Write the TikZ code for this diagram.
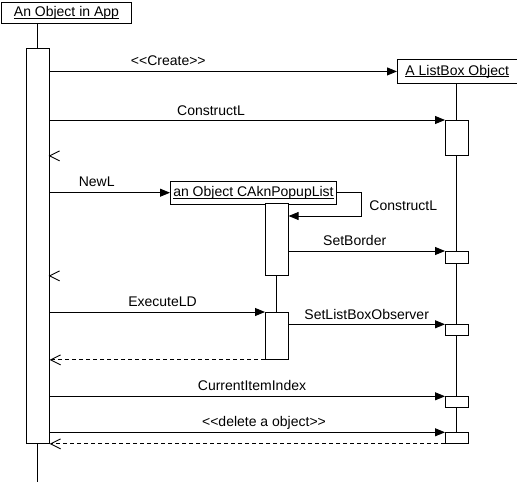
\documentclass[tikz,border=0pt]{standalone}
\usepackage{fontspec}
\setmainfont{Liberation Sans}[Ligatures=TeXOff]
\usetikzlibrary{arrows.meta}
\newcommand\objname[1]{\underline{\smash{#1}\vphantom{A}}}
\begin{document}
\begin{tikzpicture}[x=1pt,y=-1pt,line width=0.9pt,
  obj/.style={draw,fill=white,inner sep=0pt,anchor=north west,font=\fontsize{14}{16}\selectfont},
  act/.style={draw,fill=white,inner sep=0pt,minimum width=22.7pt,anchor=north west},
  lbl/.style={inner sep=0pt,anchor=base,font=\fontsize{14}{16}\selectfont},
  call/.style={-{Triangle[length=10pt,width=8pt]}},
  ret/.style={dash pattern=on 4pt off 3pt,-{Straight Barb[length=10pt,width=10pt]}}]
\useasboundingbox (0,0) rectangle (517,482);
% objects
\node[obj,minimum width=130pt,minimum height=21pt] (appobj) at (1,2) {\objname{An Object in App}};
\node[obj,minimum width=119.5pt,minimum height=24pt] (lbobj) at (397,59) {\objname{A ListBox Object}};
\node[obj,minimum width=166pt,minimum height=22.5pt] (ppobj) at (170,181) {\objname{an Object CAknPopupList}};
% activations
\node[act,minimum height=395pt] (appact) at (26,48) {};
\node[act,minimum height=35pt] (lb1) at (445,120) {};
\node[act,minimum height=12pt] (lb2) at (445,251) {};
\node[act,minimum height=11pt] (lb3) at (445,324.3) {};
\node[act,minimum height=10.7pt] (lb4) at (445,396.3) {};
\node[act,minimum height=10.7pt] (lb5) at (445,432.3) {};
\node[act,minimum height=72pt] (pp1) at (265,203) {};
\node[act,minimum height=47pt] (pp2) at (265,312) {};
% lifelines
\coordinate (append) at ([yshift=-38pt]appact.south);
\draw (appact.north |- appobj.south) -- (appact.north);
\draw (appact.south) -- (append);
\draw (lb1.north |- lbobj.south) -- (lb1.north);
\draw (lb1.south) -- (lb2.north);
\draw (lb2.south) -- (lb3.north);
\draw (lb3.south) -- (lb4.north);
\draw (lb4.south) -- (lb5.north);
\draw (pp1.south) -- (pp2.north);
% messages
\draw[call] (appact.east |- lbobj.west) -- (lbobj.west);
\draw[call] (appact.east |- lb1.north west) -- (lb1.north west);
\draw[call] (appact.east |- ppobj.west) -- (ppobj.west);
\draw[call] (ppobj.east) -- ++(25,0) |- ([yshift=-13pt]pp1.north east);
\draw[call] (pp1.east |- lb2.north west) -- (lb2.north west);
\draw[call] (appact.east |- pp2.north west) -- (pp2.north west);
\draw[call] (pp2.east |- lb3.north west) -- (lb3.north west);
\draw[ret] (pp2.south west) -- (appact.east |- pp2.south west);
\draw[call] (appact.east |- lb4.north west) -- (lb4.north west);
\draw[call] (appact.east |- lb5.north west) -- (lb5.north west);
\draw[ret] (lb5.south west) -- (appact.east |- lb5.south west);
% bare return marks
\coordinate (m1) at (appact.east |- lb1.south west);
\coordinate (m2) at (appact.east |- pp1.south west);
\draw ([shift={(10pt,5pt)}]m1) -- (m1) -- ([shift={(10pt,-5pt)}]m1);
\draw ([shift={(10pt,5pt)}]m2) -- (m2) -- ([shift={(10pt,-5pt)}]m2);
% labels
\node[lbl] (lcreate) at (168.3,65.7) {<<Create>>};
\node[lbl] (lcons1) at (211,115) {ConstructL};
\node[lbl] (lnewl) at (96.7,186.7) {NewL};
\node[lbl] (lcons2) at (403.3,210) {ConstructL};
\node[lbl] (lsetb) at (354.7,245) {SetBorder};
\node[lbl] (lexec) at (162.5,306.7) {ExecuteLD};
\node[lbl] (lsetl) at (366.7,319) {SetListBoxObserver};
\node[lbl] (lcur) at (252,390.7) {CurrentItemIndex};
\node[lbl] (ldel) at (264,426.5) {<<delete a object>>};
\end{tikzpicture}
\end{document}
